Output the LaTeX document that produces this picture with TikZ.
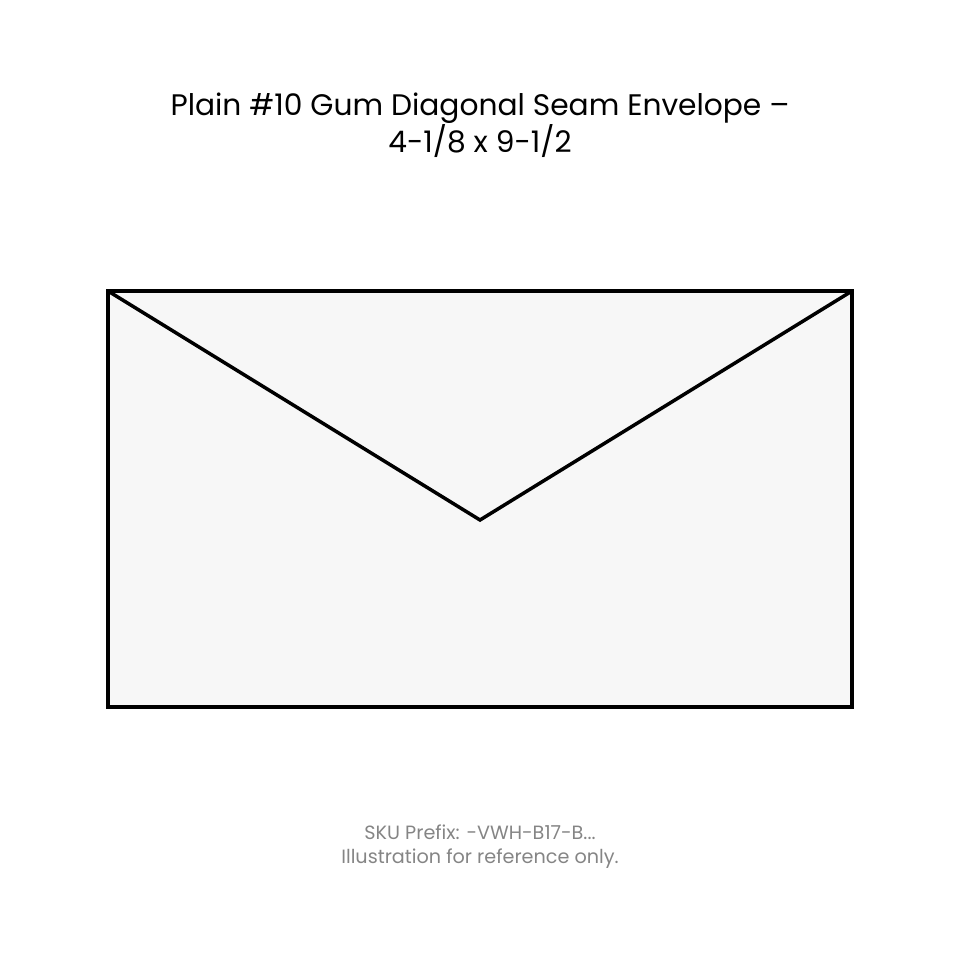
\documentclass[tikz,border=0pt]{standalone}
\usepackage{fontspec}
\setmainfont{Poppins}
\definecolor{envfill}{HTML}{F7F7F7}
\definecolor{footgray}{HTML}{858585}
\tikzset{
  envline/.style={line width=3.5pt, line join=miter},
  titletext/.style={font=\fontsize{29.7}{35}\selectfont, align=center, text=black, inner sep=0pt},
  foottext/.style={font=\fontsize{19.2}{24}\selectfont, align=center, text=footgray, inner sep=0pt}
}
\begin{document}
\begin{tikzpicture}[x=1pt,y=-1pt]
\useasboundingbox (0,0) rectangle (959,953);
\coordinate (tl) at (108,291);
\coordinate (tr) at (852,291);
\coordinate (br) at (852,707);
\coordinate (bl) at (108,707);
\coordinate (apex) at (480,520);
\draw[envline, fill=envfill] (tl) -- (tr) -- (br) -- (bl) -- cycle;
\draw[envline] (tl) -- (apex) -- (tr);
\node[titletext] (title) at (480,125.5) {Plain \#10 Gum Diagonal Seam Envelope –\\4-1/8 x 9-1/2};
\node[foottext] (foot) at (480,846.5) {SKU Prefix: -VWH-B17-B...\\Illustration for reference only.};
\end{tikzpicture}
\end{document}
